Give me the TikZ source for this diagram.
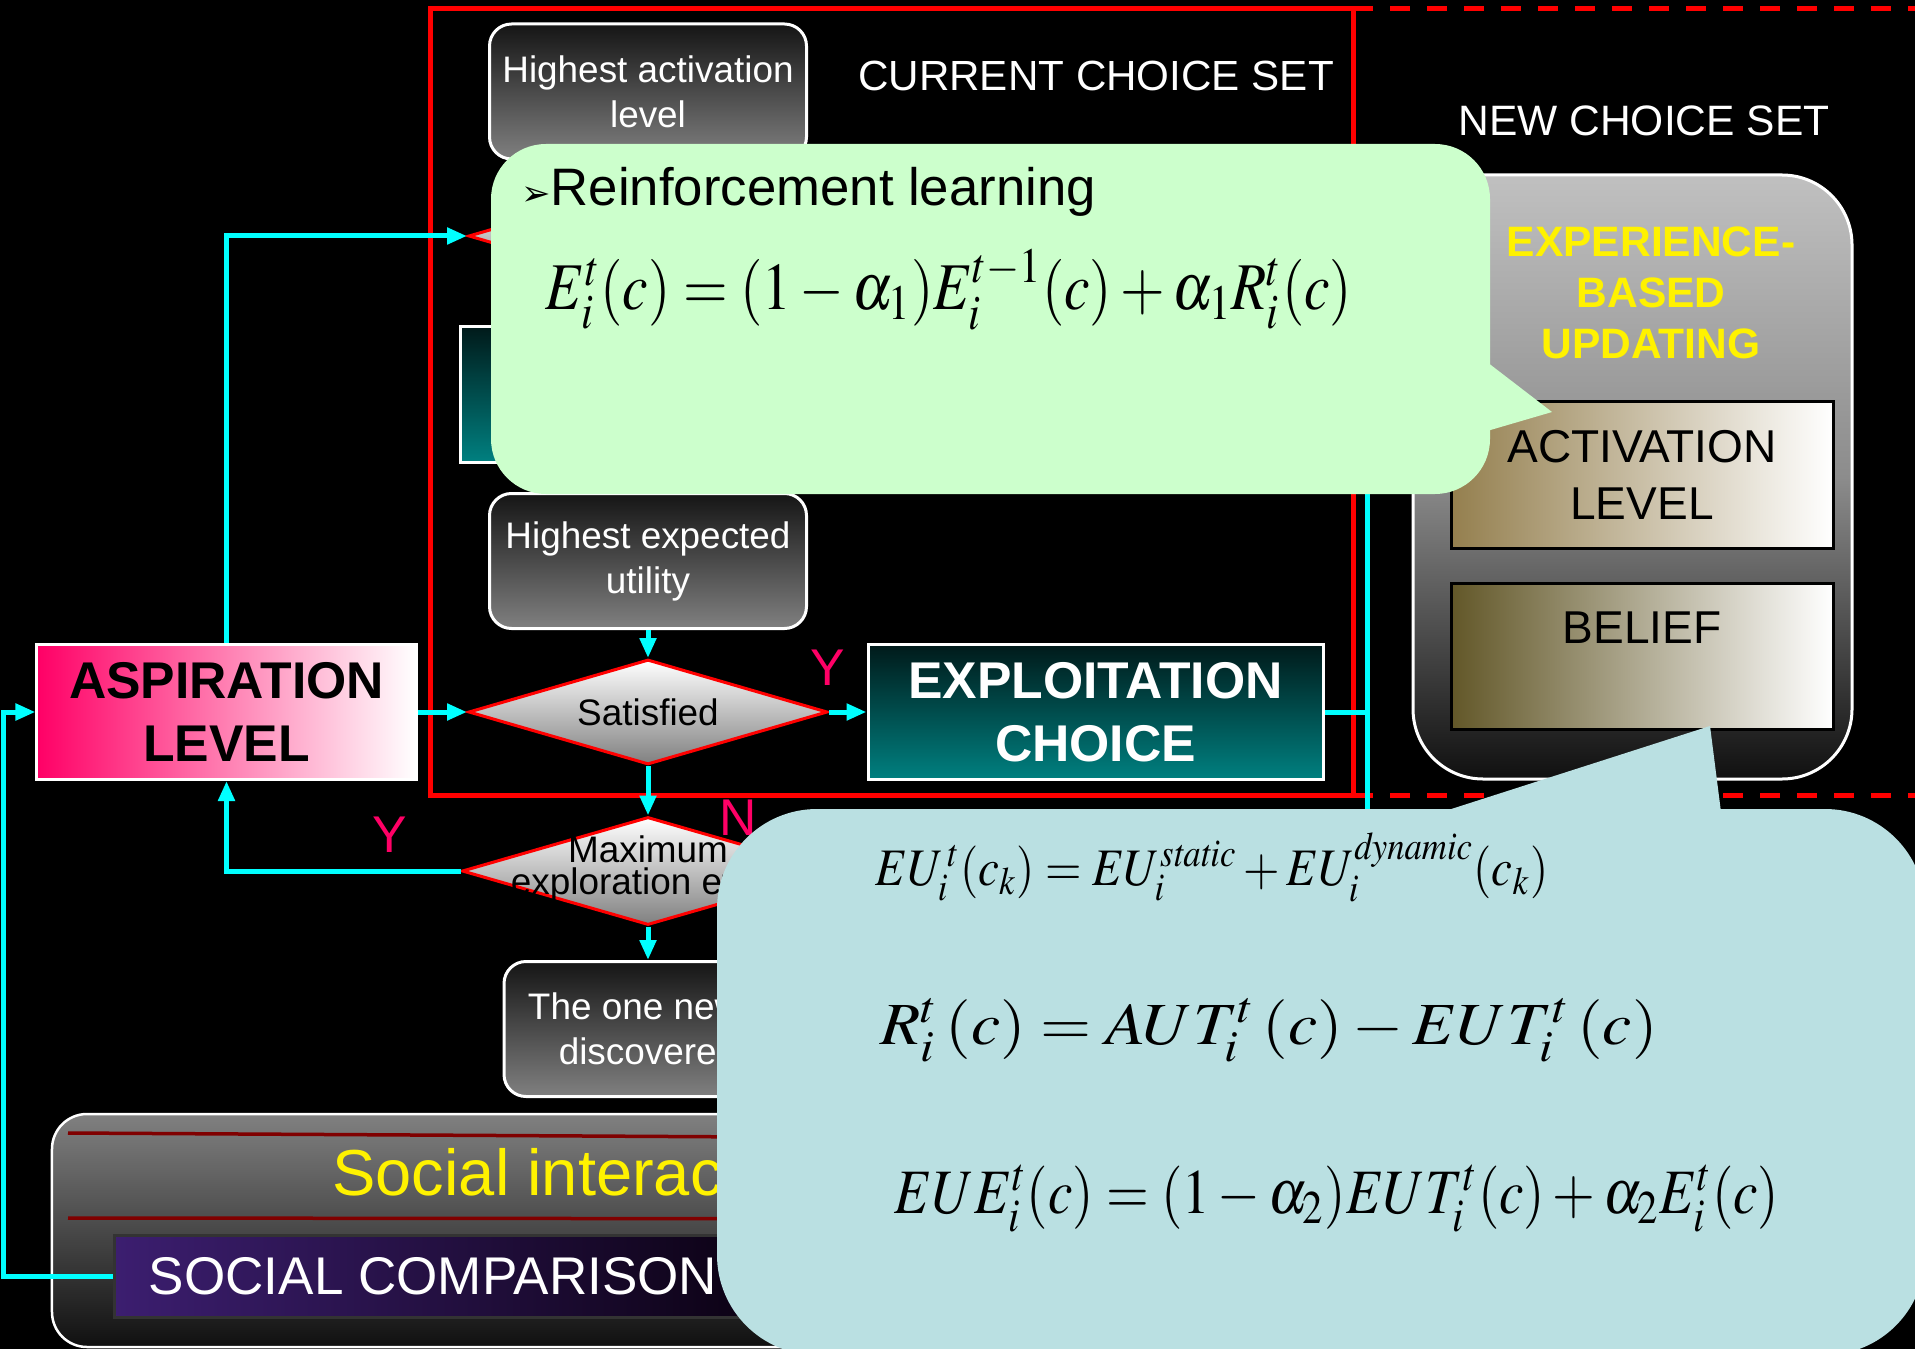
\documentclass[tikz,border=0pt]{standalone}
\usepackage{mathptmx}
\usepackage[no-math]{fontspec}
\setmainfont{Liberation Sans}
\newfontfamily\dingfont{DejaVu Sans}
\usetikzlibrary{shapes.geometric,arrows.meta}

\definecolor{flowcyan}{HTML}{00FFFF}
\definecolor{answer}{HTML}{FF0066}
\definecolor{boxtop}{HTML}{151515}
\definecolor{boxbot}{HTML}{808080}
\definecolor{tealtop}{HTML}{001A1A}
\definecolor{tealbot}{HTML}{008080}
\definecolor{aspleft}{HTML}{FF0066}
\definecolor{notegreen}{HTML}{CCFFCC}
\definecolor{noteblue}{HTML}{BAE0E2}
\definecolor{actleft}{HTML}{947F4E}
\definecolor{belleft}{HTML}{625728}
\definecolor{darkrule}{HTML}{800000}
\definecolor{compleft}{HTML}{3C1E70}
\definecolor{compright}{HTML}{0C0214}
\definecolor{updtop}{HTML}{C0C0C0}
\definecolor{updmid}{HTML}{8C8C8C}
\definecolor{nearblack}{HTML}{101010}

\begin{document}
\begin{tikzpicture}[x=1mm,y=-1mm,
  box/.style={rounded corners=2.2mm,draw=white,line width=0.3mm,top color=boxtop,bottom color=boxbot,text=white,align=center,inner sep=0pt,minimum width=31.7mm,minimum height=13.5mm,font=\fontsize{10.5}{12.8}\selectfont},
  decision/.style={diamond,aspect=3.4,draw=red,line width=0.3mm,top color=white,bottom color=boxbot,inner sep=0pt,minimum width=35.9mm,minimum height=10.5mm,font=\fontsize{10.5}{12}\selectfont},
  bigbox/.style={draw=white,line width=0.3mm,align=center,inner sep=0pt,minimum width=45.5mm,minimum height=13.5mm,font=\bfseries\fontsize{14.7}{18}\selectfont},
  slot/.style={draw=black,line width=0.3mm,left color=actleft,right color=white,align=center,inner sep=0pt,minimum width=38.2mm,minimum height=14.6mm,font=\fontsize{13.1}{16.3}\selectfont},
  answer/.style={text=answer,inner sep=0pt,font=\fontsize{14.7}{14.7}\selectfont},
  link/.style={flowcyan,line width=0.5mm},
  flow/.style={link,-{Triangle[length=2mm,width=1.6mm]}},
  frameline/.style={red,line width=0.5mm}]
  \useasboundingbox (0,0) rectangle (191.5,134.9);
  \clip (0,0) rectangle (191.5,134.9);
  \fill[black] (0,0) rectangle (191.5,134.9);

  \draw[frameline] (43,0.9) rectangle (135.3,79.5);
  \draw[frameline,dash pattern=on 2mm off 1.7mm] (135.3,0.9) -- (191.5,0.9) (135.3,79.5) -- (191.5,79.5);
  \node[text=white,font=\fontsize{12}{12}\selectfont] (current) at (109.6,7.6) {CURRENT CHOICE SET};
  \node[text=white,font=\fontsize{12.1}{12.1}\selectfont] (newset) at (164.4,12.1) {NEW CHOICE SET};

  \node[box] (highact) at (64.8,9.15) {Highest activation\\level};
  \node[decision] (actdec) at (64.8,23.6) {};
  \node[bigbox,top color=tealtop,bottom color=tealbot] (explore) at (68.75,39.45) {};
  \node[box] (highexp) at (64.8,56.1) {Highest expected\\utility};
  \node[decision] (satisfied) at (64.8,71.2) {Satisfied};
  \node[bigbox,minimum width=37.9mm,left color=aspleft,right color=white] (aspiration) at (22.65,71.2) {ASPIRATION\\LEVEL};
  \node[bigbox,top color=tealtop,bottom color=tealbot,text=white] (exploit) at (109.55,71.2) {EXPLOITATION\\CHOICE};
  \node[decision,minimum width=37.2mm,minimum height=10.8mm] (maxexp) at (64.8,87.1) {};
  \node[font=\fontsize{10.5}{9}\selectfont,align=center,inner sep=0pt] (maxtext) at (64.8,86.9) {Maximum\\exploration effort};
  \node[box,minimum width=28.8mm] (newly) at (64.8,102.9) {The one newly\\discovered};

  \node[rounded corners=7mm,draw=white,line width=0.3mm,top color=updtop,bottom color=nearblack,middle color=updmid,minimum width=43.9mm,minimum height=60.4mm] (updating) at (163.25,47.7) {};
  \node[text=yellow,font=\bfseries\fontsize{12.1}{14.6}\selectfont,align=center] (updtitle) at (165.1,29.3) {EXPERIENCE-\\BASED\\UPDATING};
  \node[slot] (activation) at (164.2,47.5) {ACTIVATION\\LEVEL};
  \node[slot,left color=belleft] (belief) at (164.2,65.6) {BELIEF\\\mbox{}};

  \node[rounded corners=3.5mm,draw=white,line width=0.25mm,top color=boxbot,bottom color=nearblack,minimum width=105.6mm,minimum height=23.3mm,inner sep=0pt] (social) at (58,123.05) {};
  \draw[darkrule,line width=0.35mm] (6.8,113.3) -- (110,113.9) (6.8,121.8) -- (110,121.9);
  \node[text=yellow,font=\fontsize{18.5}{18.5}\selectfont] (socialtitle) at (58,117.2) {Social interaction};
  \node[draw=black!80,line width=0.3mm,left color=compleft,right color=compright,text=white,minimum width=63.8mm,minimum height=8.2mm,inner sep=0pt,font=\fontsize{15.1}{15.1}\selectfont] (comparison) at (43.3,127.6) {SOCIAL COMPARISON};

  \draw[flow] (highexp.south) -- (satisfied.north);
  \draw[flow] (aspiration.east) -- (satisfied.west);
  \draw[flow] (satisfied.east) -- (exploit.west);
  \draw[flow] (satisfied.south) -- (maxexp.north);
  \draw[flow] (maxexp.south) -- (newly.north);
  \draw[flow] (maxexp.west) -| (aspiration.south);
  \draw[flow] (aspiration.north) |- (actdec.west);
  \draw[flow] (comparison.west) -- ++(-10.9,0) |- (aspiration.west);

  \coordinate (feedtop) at (136.7,47);
  \coordinate (feedbot) at (136.7,83);
  \draw[link] (feedtop) -- (feedbot);
  \draw[link] (exploit.east) -- (exploit.east -| feedtop);

  \node[answer] (yes1) at (82.8,66.8) {Y};
  \node[answer] (yes2) at (39,83.5) {Y};
  \node[answer] (no) at (73.8,81.8) {N};

  \fill[notegreen,rounded corners=5.5mm] (49.1,14.4) rectangle (149,49.4);
  \fill[notegreen] (147,34.9) -- (155.2,41.2) -- (147,43.6) -- cycle;
  \node[anchor=base west,font=\fontsize{15}{15}\selectfont] (rltitle) at (50.9,20.6) {{\dingfont\fontsize{10}{10}\selectfont ➢}Reinforcement learning};
  \node[font=\fontsize{19}{19}\selectfont] (reinforce) at (94.9,29) {\scalebox{0.86}[1]{$E_i^t(c)=(1-\alpha_1)E_i^{t-1}(c)+\alpha_1R_i^t(c)$}};

  \fill[noteblue,rounded corners=10mm] (71.7,80.9) rectangle (192.5,135.5);
  \fill[noteblue] (141.7,82) -- (171,72.6) -- (172.2,82) -- cycle;
  \node[font=\fontsize{15}{15}\selectfont] (expu) at (121.2,86.7) {\scalebox{0.89}[1]{$EU_i^{\,t}(c_k)=EU_i^{\mathit{static}}+EU_i^{\mathit{dynamic}}(c_k)$}};
  \node[font=\fontsize{17}{17}\selectfont] (regret) at (126.9,103) {\scalebox{1.1}[1]{$R_i^t\,(c)=AUT_i^t\,(c)-EUT_i^t\,(c)$}};
  \node[font=\fontsize{18}{18}\selectfont] (euexp) at (133.7,119.9) {\scalebox{0.87}[1]{$EUE_i^t(c)=(1-\alpha_2)EUT_i^t(c)+\alpha_2E_i^t(c)$}};
\end{tikzpicture}
\end{document}
